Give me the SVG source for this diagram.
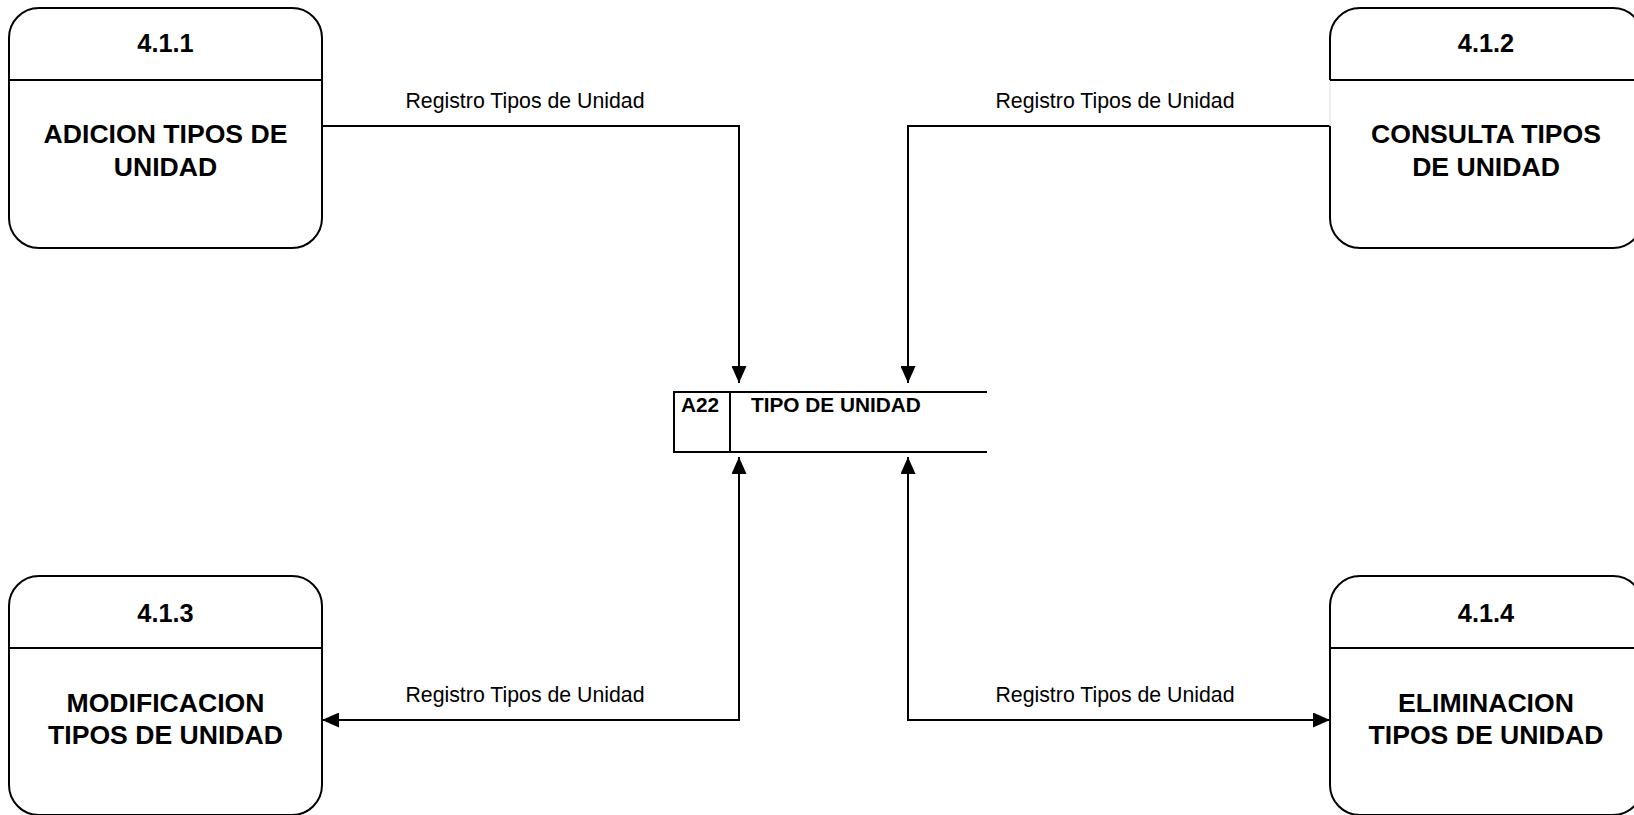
<svg xmlns="http://www.w3.org/2000/svg" width="1634" height="815" viewBox="0 0 1634 815">
<style>
.box{fill:#fff;stroke:#000;stroke-width:2}
.ln{fill:none;stroke:#000;stroke-width:2}
.title{font-family:"Liberation Sans",Arial,sans-serif;font-weight:bold;font-size:25.3px;text-anchor:middle;fill:#000}
.name{font-family:"Liberation Sans",Arial,sans-serif;font-weight:bold;font-size:26.6px;text-anchor:middle;fill:#000}
.st{font-family:"Liberation Sans",Arial,sans-serif;font-weight:bold;font-size:20.8px;fill:#000}
.lbl{font-family:"Liberation Sans",Arial,sans-serif;font-size:21.3px;text-anchor:middle;fill:#000}
</style>
<defs>
<marker id="arr" viewBox="0 0 17 15" refX="17" refY="7.5" markerWidth="17" markerHeight="15" markerUnits="userSpaceOnUse" orient="auto-start-reverse">
<path d="M0,0 L17,7.5 L0,15 z" fill="#000"/>
</marker>
</defs>
<rect width="1634" height="815" fill="#fff"/>
<g id="connectors">
<path class="ln" d="M322,126 H739 V383" marker-end="url(#arr)"/>
<path class="ln" d="M1330,126 H908 V383" marker-end="url(#arr)"/>
<path class="ln" d="M739,457 V720 H322" marker-start="url(#arr)" marker-end="url(#arr)"/>
<path class="ln" d="M908,457 V720 H1330" marker-start="url(#arr)" marker-end="url(#arr)"/>
<text class="lbl" x="525" y="108">Registro Tipos de Unidad</text>
<text class="lbl" x="1115" y="108">Registro Tipos de Unidad</text>
<text class="lbl" x="525" y="702">Registro Tipos de Unidad</text>
<text class="lbl" x="1115" y="702">Registro Tipos de Unidad</text>
</g>
<g id="p411">
<rect class="box" x="9" y="8" width="313" height="240" rx="30" ry="30"/>
<line class="ln" x1="9" y1="80" x2="322" y2="80"/>
<text class="title" x="165.5" y="52">4.1.1</text>
<text class="name" x="165.5" y="143">ADICION TIPOS DE</text>
<text class="name" x="165.5" y="176">UNIDAD</text>
</g>
<g id="p412">
<path class="box" d="M1330,80 V38 A30,30 0 0 1 1360,8 H1613 A30,30 0 0 1 1643,38 V218 A30,30 0 0 1 1613,248 H1360 A30,30 0 0 1 1330,218 V126"/>
<line x1="1330" y1="80" x2="1330" y2="126" stroke="#ddd" stroke-width="1"/>
<line class="ln" x1="1330" y1="80" x2="1643" y2="80"/>
<text class="title" x="1486" y="52">4.1.2</text>
<text class="name" x="1486" y="143">CONSULTA TIPOS</text>
<text class="name" x="1486" y="176">DE UNIDAD</text>
</g>
<g id="p413">
<rect class="box" x="9" y="576" width="313" height="239" rx="30" ry="30"/>
<line class="ln" x1="9" y1="648" x2="322" y2="648"/>
<text class="title" x="165.5" y="622">4.1.3</text>
<text class="name" x="165.5" y="712">MODIFICACION</text>
<text class="name" x="165.5" y="744">TIPOS DE UNIDAD</text>
</g>
<g id="p414">
<rect class="box" x="1330" y="576" width="313" height="239" rx="30" ry="30"/>
<line class="ln" x1="1330" y1="648" x2="1643" y2="648"/>
<text class="title" x="1486" y="622">4.1.4</text>
<text class="name" x="1486" y="712">ELIMINACION</text>
<text class="name" x="1486" y="744">TIPOS DE UNIDAD</text>
</g>
<g id="a22">
<path class="ln" d="M987,392 H674 V452 H987 M730,392 V452"/>
<text class="st" x="700" y="412" text-anchor="middle">A22</text>
<text class="st" x="751" y="412">TIPO DE UNIDAD</text>
</g>
</svg>
